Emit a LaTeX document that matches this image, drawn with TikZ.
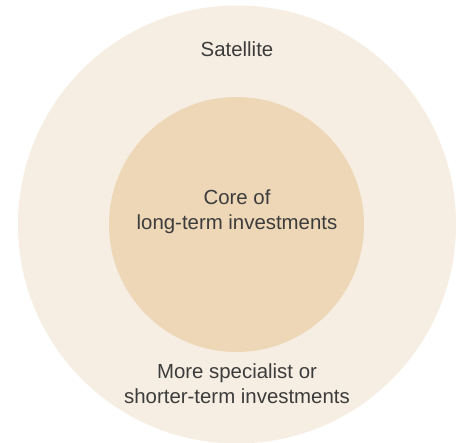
\documentclass[tikz,border=0pt]{standalone}
\usepackage{fontspec}
\setmainfont{Liberation Sans}
\definecolor{outerc}{HTML}{F6EEE2}
\definecolor{innerc}{HTML}{EDD7B7}
\definecolor{txtc}{HTML}{3C3C3C}
\begin{document}
\begin{tikzpicture}[x=1pt,y=-1pt,
  lbl/.style={text=txtc,font=\fontsize{20.4}{25}\selectfont,align=center,inner sep=0pt}]
\useasboundingbox[fill=white] (0,0) rectangle (458,443);
\fill[outerc] (237,224.5) circle (219);
\fill[innerc] (236.5,224.5) circle (127.5);
\node[lbl,anchor=base] (sat) at (237,57) {Satellite};
\node[lbl,anchor=base] (core1) at (237,205) {Core of};
\node[lbl,anchor=base] (core2) at (237,230) {long-term investments};
\node[lbl,anchor=base] (sp1) at (237,379) {More specialist or};
\node[lbl,anchor=base] (sp2) at (237,404) {shorter-term investments};
\end{tikzpicture}
\end{document}
